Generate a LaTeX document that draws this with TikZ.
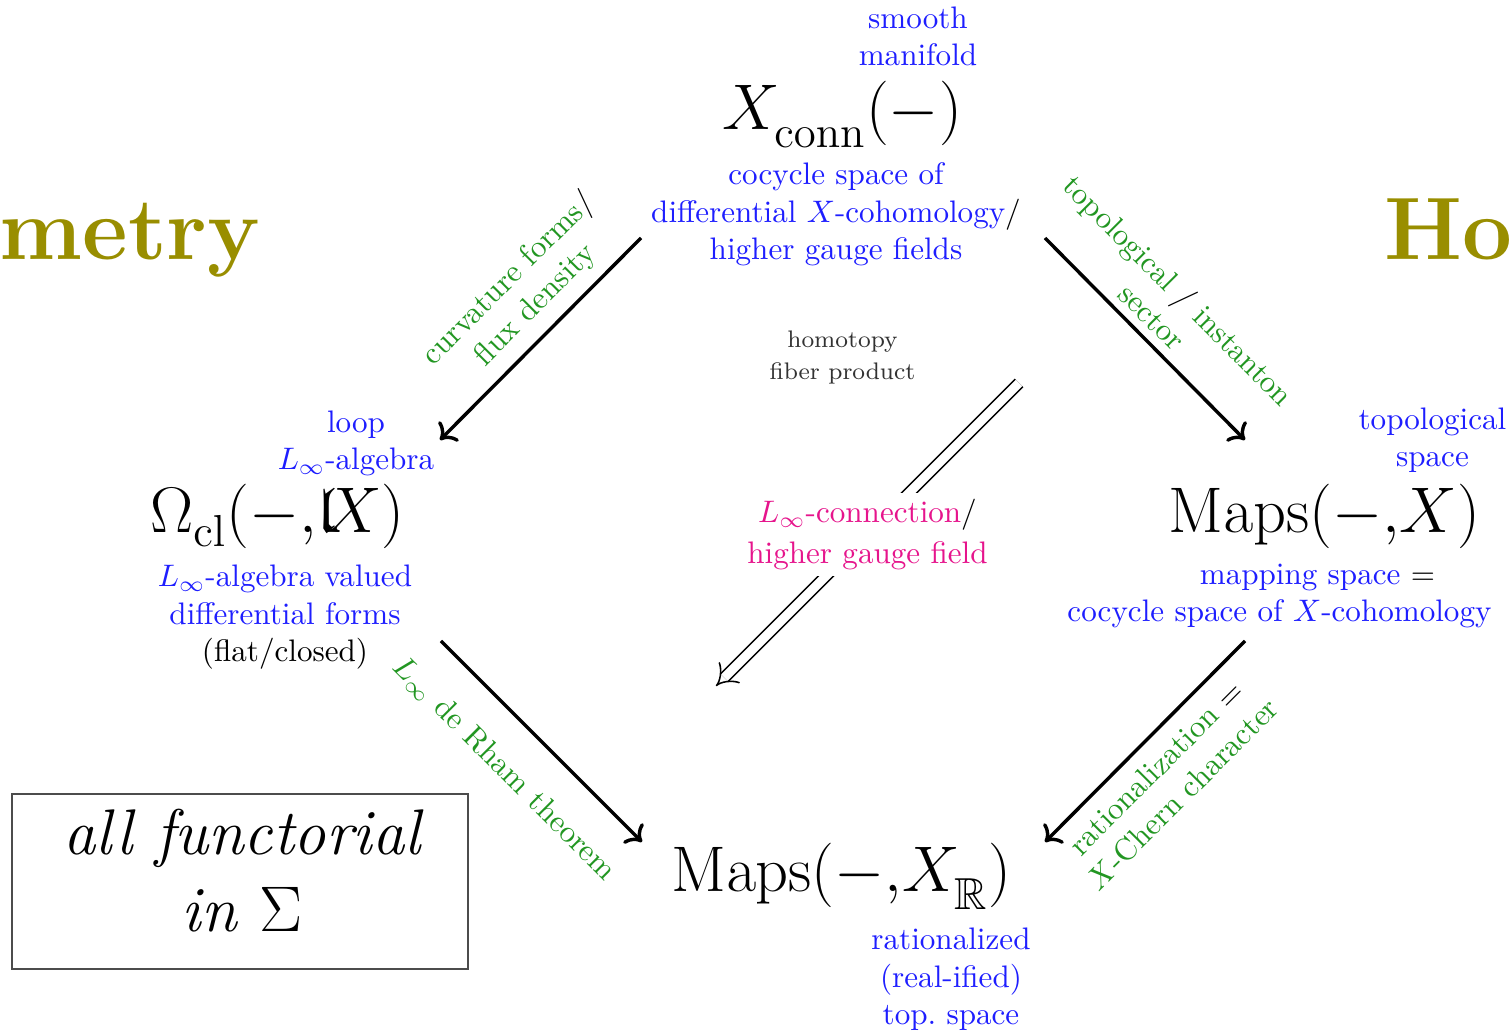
\RequirePackage{fix-cm}
\documentclass[tikz,border=0pt]{standalone}
\usepackage{amssymb}
\usetikzlibrary{arrows.meta}
\definecolor{tblue}{RGB}{30,30,255}
\definecolor{tgreen}{RGB}{34,150,34}
\definecolor{tmag}{RGB}{230,20,140}
\definecolor{tolive}{RGB}{153,142,0}
\definecolor{tgray}{RGB}{50,50,50}
\newcommand{\lowsub}[2]{\raisebox{-#1}{$\scriptstyle #2$}}
\begin{document}
\begin{tikzpicture}[x=0.3215pt,y=-0.3215pt,
  big/.style={font=\fontsize{20.74}{25}\selectfont, inner sep=0pt, anchor=base},
  note/.style={text=tblue, align=center, inner sep=0pt, anchor=base, font=\fontsize{10}{12}\selectfont},
  elabel/.style={text=tgreen, align=center, inner sep=0pt, font=\fontsize{10}{12}\selectfont},
  title/.style={text=tolive, inner sep=0pt, font=\fontsize{28.5}{34}\selectfont\bfseries},
  map/.style={line width=1.1pt, -{To[length=4.4pt,width=9pt]}},
  dmap/.style={double, double distance=2.9pt, line width=0.5pt, -{Implies}},
]
\useasboundingbox (0,0) rectangle (1510,1033);
\clip (0,0) rectangle (1510,1033);

% titles (cut by the frame)
\node[title, anchor=base east] (geo) at (261,260) {Geometry};
\node[title, anchor=base west] (homo) at (1384,260) {Homotopy};

% main objects (anchor = baseline)
\node[big] (top) at (842,130) {$X_{\lowsub{2.5pt}{\mathrm{conn}}}(-)$};
\node[big] (left) at (277.5,533) {$\Omega_{\lowsub{1.3pt}{\mathrm{cl}}}(-{,}\mathfrak{l}\mkern-3mu X)$};
\node[big] (right) at (1324.5,533) {$\mathrm{Maps}(-{,}X)$};
\node[big] (bottom) at (841.5,892) {$\mathrm{Maps}(-{,}X_{\lowsub{2.5pt}{\mathbb{R}}})$};

% annotations (anchor = baseline of last line)
\node[note] (smooth) at (918,66) {smooth\\manifold};
\node[note] (cocycle) at (836,259.6) {cocycle space of\\differential $X$-cohomology{\color{black}/}\\higher gauge fields};
\node[note] (loop) at (356,470) {loop\\$L_\infty$-algebra};
\node[note] (forms) at (285,661.6) {$L_\infty$-algebra valued\\differential forms\\{\color{black}(flat/closed)}};
\node[note] (topsp) at (1432.5,467) {topological\\space};
\node[note] (mapsp) at (1279.5,622) {\hspace*{24.4pt}mapping space {\color{black}$=$}\\cocycle space of $X$-cohomology};
\node[note] (ratsp) at (951,1024.6) {rationalized\\(real-ified)\\top.\ space};
\node[note, text=tgray, font=\fontsize{7.7}{10.3}\selectfont] (hfp) at (842.5,380) {homotopy\\fiber product};

% arrows
\coordinate (tl1) at (641,238); \coordinate (tl2) at (440,440);
\coordinate (tr1) at (1045,238); \coordinate (tr2) at (1245,440);
\coordinate (bl1) at (441,641); \coordinate (bl2) at (642,842);
\coordinate (br1) at (1245,641); \coordinate (br2) at (1045,842);
\draw[map] (tl1) -- (tl2);
\draw[map] (tr1) -- (tr2);
\draw[map] (bl1) -- (bl2);
\draw[map] (br1) -- (br2);

% arrow labels
\node[elabel, rotate=45] (lcf) at (522,292) {curvature forms{\color{black}/}\\flux density};
\node[elabel, rotate=-45] (lti) at (1166,303) {topological {\color{black}/} instanton\\sector};
\node[elabel, rotate=-45] (ldr) at (504,769) {$L_\infty$ de Rham theorem};
\node[elabel, rotate=45] (lrc) at (1169,781) {rationalization {\color{black}$=$}\\$X$-Chern character};

% double arrow (homotopy)
\coordinate (d1) at (1019,383); \coordinate (d2) at (716,686);
\draw[dmap] (d1) -- node[fill=white, inner sep=2pt, text=tmag, align=center, font=\fontsize{10}{12.9}\selectfont] (conn) {$L_\infty$-connection{\color{black}/}\\higher gauge field} (d2);

% box
\node[draw=black!70, line width=0.6pt, minimum width=146.6pt, minimum height=56.3pt, inner sep=0pt] (box) at (240,881.5) {};
\node[anchor=base, align=center, inner sep=0pt, font=\fontsize{20.74}{25}\selectfont\itshape] (boxtxt) at (242,932) {all functorial\\in $\Sigma$};
\end{tikzpicture}
\end{document}
